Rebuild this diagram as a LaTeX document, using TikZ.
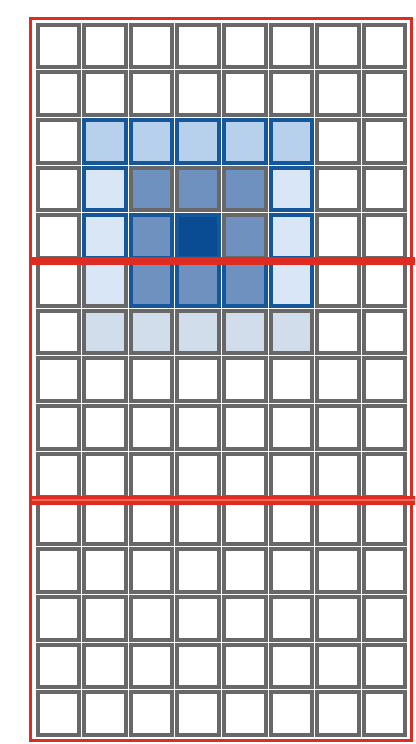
\documentclass[tikz,border=0pt]{standalone}
\definecolor{gridgray}{HTML}{686868}
\definecolor{bluebd}{HTML}{16579A}
\definecolor{lightb}{HTML}{B7D0EC}
\definecolor{vlightb}{HTML}{D8E6F5}
\definecolor{medb}{HTML}{6E91C0}
\definecolor{darkb}{HTML}{0A4C93}
\definecolor{paleb}{HTML}{D2DDEC}
\definecolor{redline}{HTML}{DE2C22}
\definecolor{redlight}{HTML}{EE6A55}
\begin{document}
\begin{tikzpicture}[x=1pt,y=-1pt]
\tikzset{
  cellbox/.style={line width=4pt},
  redframe/.style={draw=redline, line width=3pt},
  redthick/.style={draw=redline, line width=8pt},
}
\useasboundingbox (0,0) rectangle (415,744);
\fill[white] (0,0) rectangle (415,744);
\def\xo{35}\def\yo{22}\def\pxx{46.6}\def\pyy{47.7}
% base grid
\foreach \r in {0,...,14}{
  \foreach \c in {0,...,7}{
    \draw[cellbox, draw=gridgray, fill=white]
      ({\xo+\c*\pxx+2.5},{\yo+\r*\pyy+2.5}) rectangle ({\xo+(\c+1)*\pxx-2.5},{\yo+(\r+1)*\pyy-2.5});
  }
}
% coloured cells: column/row (1-indexed)/fill/border
\foreach \c/\r/\f/\d in {
  2/3/lightb/bluebd, 3/3/lightb/bluebd, 4/3/lightb/bluebd, 5/3/lightb/bluebd, 6/3/lightb/bluebd,
  2/4/vlightb/bluebd, 3/4/medb/gridgray, 4/4/medb/gridgray, 5/4/medb/gridgray, 6/4/vlightb/bluebd,
  2/5/vlightb/bluebd, 3/5/medb/bluebd, 4/5/darkb/bluebd, 5/5/medb/gridgray, 6/5/vlightb/bluebd,
  2/6/vlightb/gridgray, 3/6/medb/bluebd, 4/6/medb/bluebd, 5/6/medb/bluebd, 6/6/vlightb/bluebd,
  2/7/paleb/gridgray, 3/7/paleb/gridgray, 4/7/paleb/gridgray, 5/7/paleb/gridgray, 6/7/paleb/gridgray}{
  \draw[cellbox, draw=\d, fill=\f]
    ({\xo+(\c-1)*\pxx+2.5},{\yo+(\r-1)*\pyy+2.5}) rectangle ({\xo+\c*\pxx-2.5},{\yo+\r*\pyy-2.5});
}
% red frames
\draw[redframe] (30.5,18) rectangle (411,740);
\draw[redthick] (29,261) -- (415,261);
\draw[draw=redline, line width=9pt] (29,500) -- (415,500);
\draw[draw=redlight, line width=1.5pt] (32,500) -- (415,500);
\end{tikzpicture}
\end{document}
